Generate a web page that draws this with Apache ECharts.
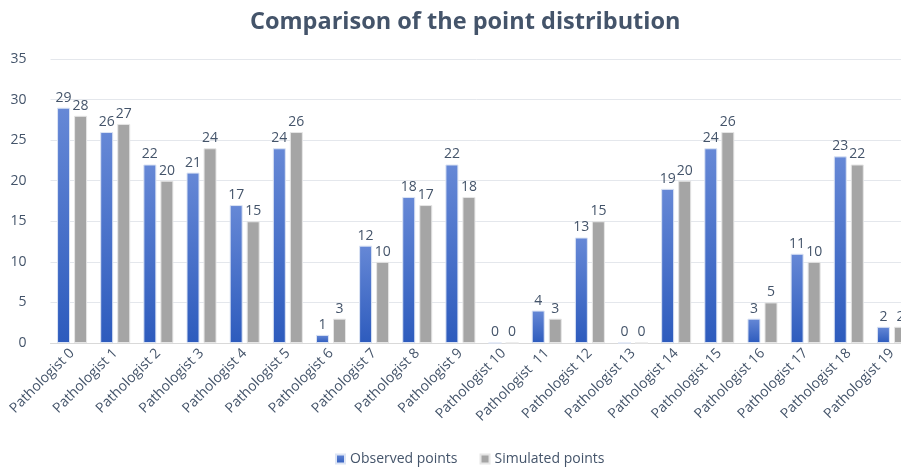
<!DOCTYPE html>
<html><head><meta charset="utf-8">
<script src="https://cdn.jsdelivr.net/npm/echarts@6/dist/echarts.min.js"></script>
<style>html,body{margin:0;padding:0;background:#fff}#c{width:901px;height:475px}</style>
</head><body><div id="c"></div>
<script>
const categories = ["Pathologist 0","Pathologist 1","Pathologist 2","Pathologist 3","Pathologist 4","Pathologist 5","Pathologist 6","Pathologist 7","Pathologist 8","Pathologist 9","Pathologist 10","Pathologist  11","Pathologist 12","Pathologist 13","Pathologist 14","Pathologist 15","Pathologist 16","Pathologist 17","Pathologist 18","Pathologist 19"];
const observed = [29,26,22,21,17,24,1,12,18,22,0,4,13,0,19,24,3,11,23,2];
const simulated = [28,27,20,24,15,26,3,10,17,18,0,3,15,0,20,26,5,10,22,2];
const yTicks = {min:0, max:35, interval:5};

const chart = echarts.init(document.getElementById('c'));
const txt = '#44546A';
const font = "'Open Sans', 'Liberation Sans', sans-serif";
const lbl = {show:true, position:'top', distance:3, color:'#44546A', fontSize:14, fontFamily:font};
chart.setOption({
  animation:false,
  title:{text:'Comparison of the point distribution', left:245, top:5,
    textStyle:{fontSize:23.5, fontWeight:'bold', color:txt, fontFamily:font}},
  legend:{bottom:4, left:330, itemWidth:9, itemHeight:9, itemGap:22, icon:'rect',
    textStyle:{fontSize:14, color:'#44546A', fontFamily:font},
    data:['Observed points','Simulated points']},
  grid:{left:50.5, width:863, top:59, bottom:132, containLabel:false, outerBoundsMode:'none'},
  xAxis:{type:'category', data:categories,
    axisLine:{lineStyle:{color:'#D9D9D9', width:1}}, axisTick:{show:false},
    axisLabel:{rotate:45, interval:0, color:'#44546A', fontSize:14, fontFamily:font, margin:8}},
  yAxis:{type:'value', min:yTicks.min, max:yTicks.max, interval:yTicks.interval,
    axisLine:{show:false}, axisTick:{show:false},
    splitLine:{lineStyle:{color:'#E4E7EC'}},
    axisLabel:{color:'#44546A', fontSize:14, fontFamily:font, margin:24}},
  series:[
    {name:'Observed points', type:'bar', data:observed, barWidth:13, barGap:'31%',
      itemStyle:{color:new echarts.graphic.LinearGradient(0,0,0,1,[{offset:0,color:'#6688D6'},{offset:1,color:'#2D5BBD'}]),
        borderColor:'#DCE4F4', borderWidth:1},
      label:lbl},
    {name:'Simulated points', type:'bar', data:simulated, barWidth:13,
      itemStyle:{color:'#A5A5A5', borderColor:'#E6E6E6', borderWidth:1},
      label:lbl}
  ]
});
</script></body></html>
